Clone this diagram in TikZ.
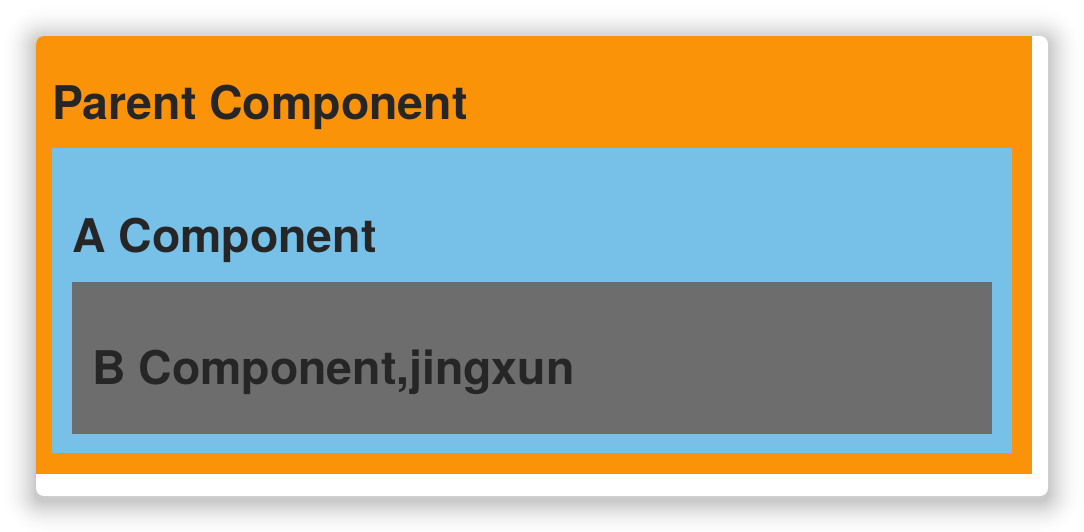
\documentclass[tikz,border=0pt]{standalone}
\usepackage{fontspec}
\setmainfont{TeX Gyre Heros}
\definecolor{cardorange}{RGB}{250,147,8}
\definecolor{cardblue}{RGB}{119,193,232}
\definecolor{cardgray}{RGB}{109,109,109}
\definecolor{textdark}{RGB}{38,38,38}
\tikzset{
  lbl/.style={anchor=base west, inner sep=0pt, text=textdark, font=\fontsize{46.4}{50}\selectfont\bfseries}
}
\begin{document}
\begin{tikzpicture}[x=1pt,y=-1pt]
\fill[white] (0,0) rectangle (1084,532);
\useasboundingbox (0,0) rectangle (1084,532);
% soft shadow (opaque graded layers, outer to inner)
\foreach \d [evaluate=\d as \r using 8+\d, evaluate=\d as \k using {22*(1-\d/36)*(1-\d/36)}] in {35,34,...,1}{
  \fill[black!\k!white, rounded corners=\r pt] ({36-\d},{40-\d}) rectangle ({1048+\d},{501+\d});
}
% card
\fill[white, rounded corners=8pt] (36,36) rectangle (1048,496);
\begin{scope}
  \clip[rounded corners=8pt] (36,36) rectangle (1048,496);
  \fill[cardorange] (36,36) rectangle (1032,474);
\end{scope}
\fill[cardblue] (52,148) rectangle (1012,453);
\fill[cardgray] (72,282) rectangle (992,434);
\node[lbl] (parent) at (52,120) {Parent Component};
\node[lbl] (acomp) at (72,252) {A Component};
\node[lbl] (bcomp) at (92,384) {B Component,jingxun};
\end{tikzpicture}
\end{document}
